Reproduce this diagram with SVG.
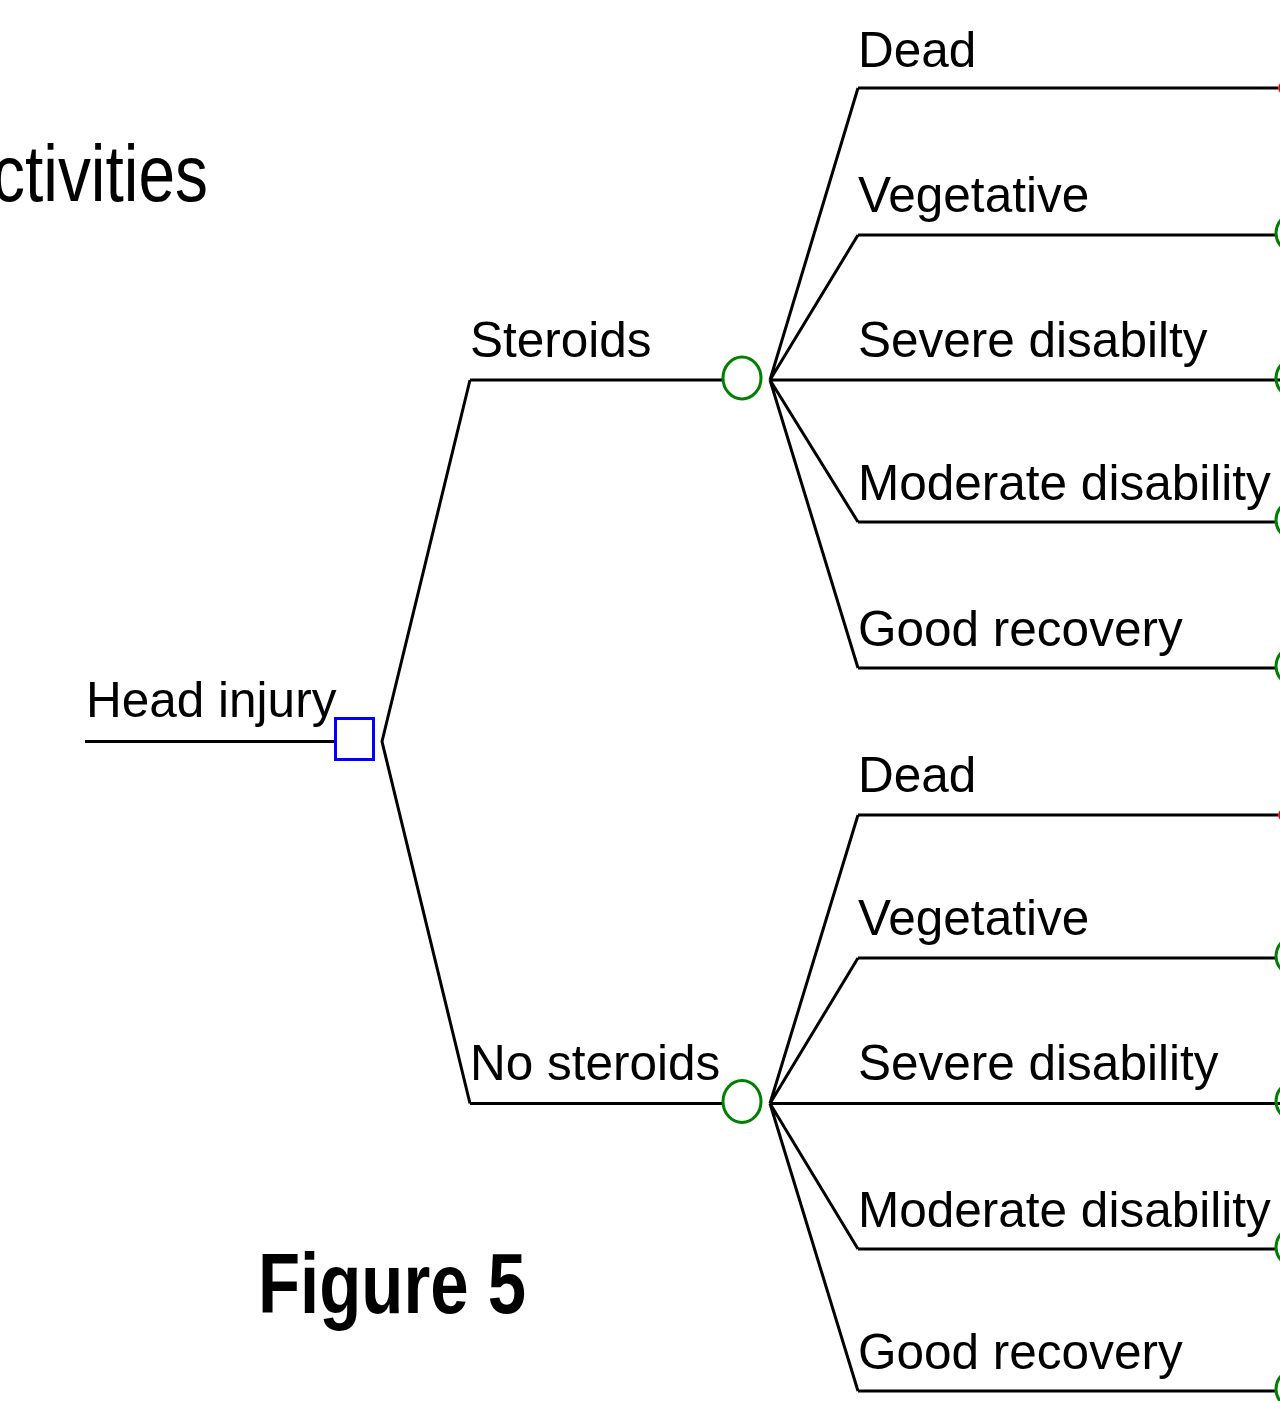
<svg xmlns="http://www.w3.org/2000/svg" width="1280" height="1401" viewBox="0 0 1280 1401">
<style>
.l{fill:none;stroke:#000;stroke-width:3;stroke-linejoin:miter}
.t{font-family:"Liberation Sans",Arial,sans-serif;font-size:49.5px;fill:#000}
.c{fill:none;stroke:#008000;stroke-width:3}
.d{fill:none;stroke:#0000ff;stroke-width:3}
.r{fill:#ff0000}
</style>
<rect width="1280" height="1401" fill="#fff"/>
<text x="208" y="201" font-family="'Liberation Sans',Arial,sans-serif" font-size="80" text-anchor="end" textLength="216" lengthAdjust="spacingAndGlyphs">ctivities</text>
<text x="258" y="1313" font-family="'Liberation Sans',Arial,sans-serif" font-size="85" font-weight="bold" textLength="268" lengthAdjust="spacingAndGlyphs">Figure 5</text>
<g id="connectors">
<path class="l" d="M85 741.5H335"/>
<path class="l" d="M470 380L382 741.5L470 1103.5"/>
<path class="l" d="M470 380H723"/>
<path class="l" d="M470 1103.5H723"/>
<path class="l" d="M858 88L770 380L858 235M770 380H1280M770 380L858 522M770 380L858 668"/>
<path class="l" d="M858 88H1278M858 235H1276M858 522H1276M858 668H1276"/>
<path class="l" d="M858 815L770 1103.5L858 958M770 1103.5H1280M770 1103.5L858 1249M770 1103.5L858 1391"/>
<path class="l" d="M858 815H1278M858 958H1276M858 1249H1276M858 1391H1276"/>
</g>
<g id="head-injury"><rect class="d" x="335.5" y="718.5" width="38" height="41"/><text class="t" x="86" y="717">Head injury</text></g>
<g id="steroids"><ellipse class="c" cx="742" cy="378" rx="19" ry="21"/><text class="t" x="470" y="357">Steroids</text></g>
<g id="no-steroids"><ellipse class="c" cx="742" cy="1101.5" rx="19" ry="21"/><text class="t" x="470" y="1080">No steroids</text></g>
<g id="s-dead"><text class="t" x="858" y="67">Dead</text><circle class="r" cx="1284" cy="88" r="6"/></g>
<g id="s-veg"><text class="t" x="858" y="212">Vegetative</text><circle class="c" cx="1296" cy="233" r="20"/></g>
<g id="s-sev"><text class="t" x="858" y="357">Severe disabilty</text><circle class="c" cx="1296" cy="378" r="20"/></g>
<g id="s-mod"><text class="t" x="858" y="500">Moderate disability</text><circle class="c" cx="1296" cy="520" r="20"/></g>
<g id="s-good"><text class="t" x="858" y="646">Good recovery</text><circle class="c" cx="1296" cy="666" r="20"/></g>
<g id="n-dead"><text class="t" x="858" y="792">Dead</text><circle class="r" cx="1284" cy="815" r="6"/></g>
<g id="n-veg"><text class="t" x="858" y="935">Vegetative</text><circle class="c" cx="1296" cy="956" r="20"/></g>
<g id="n-sev"><text class="t" x="858" y="1080">Severe disability</text><circle class="c" cx="1296" cy="1101" r="20"/></g>
<g id="n-mod"><text class="t" x="858" y="1227">Moderate disability</text><circle class="c" cx="1296" cy="1247" r="20"/></g>
<g id="n-good"><text class="t" x="858" y="1369">Good recovery</text><circle class="c" cx="1296" cy="1389" r="20"/></g>
</svg>
